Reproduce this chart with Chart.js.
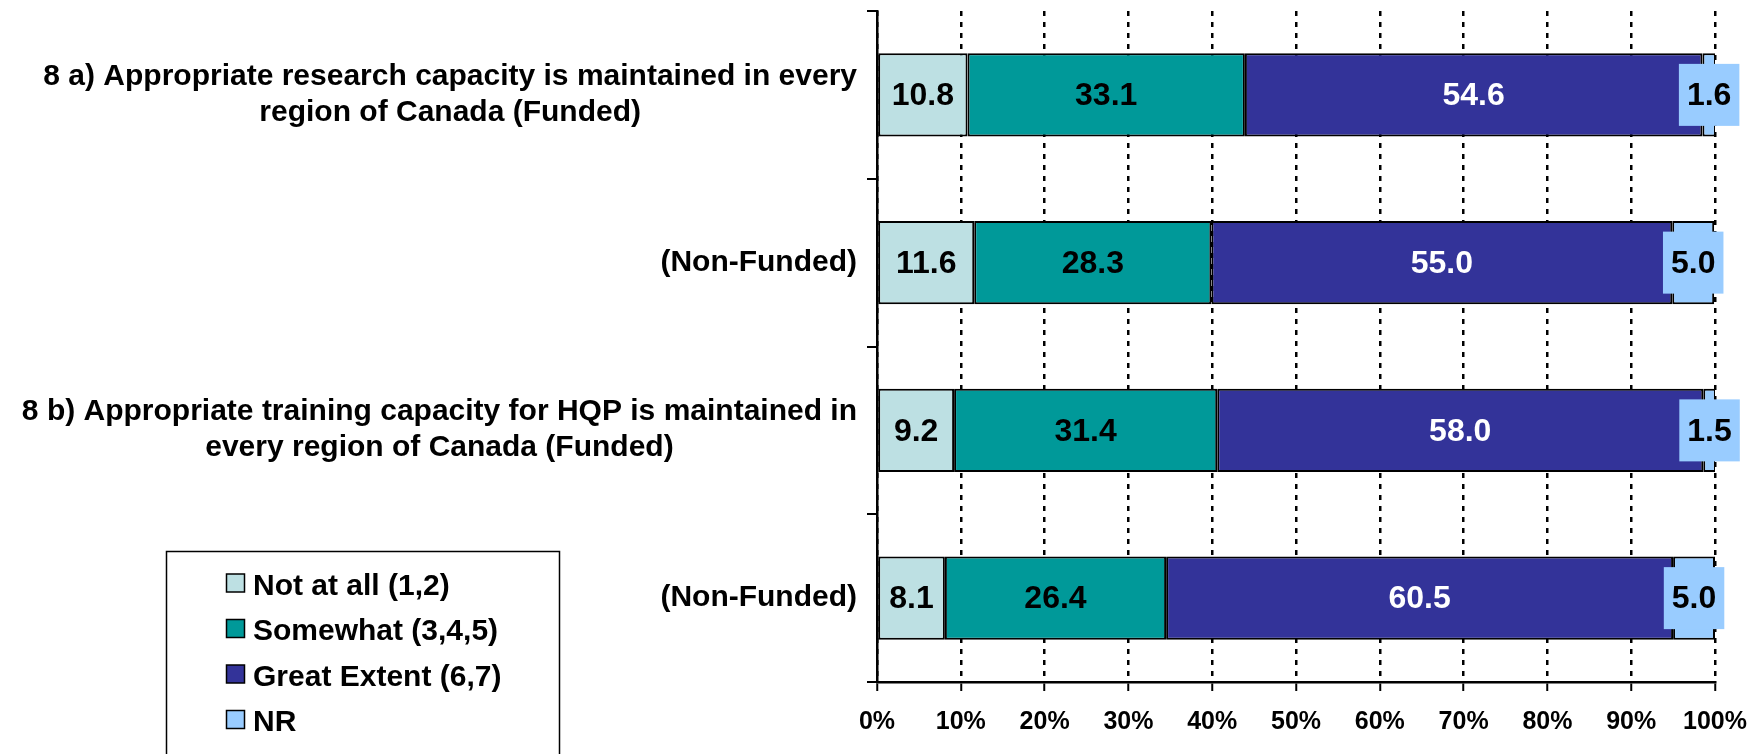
<!DOCTYPE html>
<html>
<head>
<meta charset="utf-8">
<script src="https://cdn.jsdelivr.net/npm/chart.js@4.4.1/dist/chart.umd.min.js"></script>
<style>
  html, body { margin: 0; padding: 0; background: #ffffff; }
  #wrap { width: 1763px; height: 754px; position: relative; }
</style>
</head>
<body>
<div id="wrap"><canvas id="c" width="1763" height="754"></canvas></div>
<script>
const categories = [
  ["8 a) Appropriate research capacity is maintained in every", "region of Canada (Funded)"],
  ["(Non-Funded)"],
  ["8 b) Appropriate training capacity for HQP is maintained in", "every region of Canada (Funded)"],
  ["(Non-Funded)"]
];
const seriesNames = ["Not at all (1,2)", "Somewhat (3,4,5)", "Great Extent (6,7)", "NR"];
const notAtAll    = [10.8, 11.6, 9.2, 8.1];
const somewhat    = [33.1, 28.3, 31.4, 26.4];
const greatExtent = [54.6, 55.0, 58.0, 60.5];
const noResponse  = [1.6, 5.0, 1.5, 5.0];
const tickLabels  = ["0%", "10%", "20%", "30%", "40%", "50%", "60%", "70%", "80%", "90%", "100%"];

const seriesColors = ["#BDE0E3", "#009999", "#333399", "#99CCFF"];
const labelColors  = ["#000000", "#000000", "#FFFFFF", "#000000"];
const FONT = '"Liberation Sans", Arial, Helvetica, sans-serif';

const seriesValues = [notAtAll, somewhat, greatExtent, noResponse];

const datasets = seriesValues.map((vals, i) => ({
  label: seriesNames[i],
  data: vals,
  backgroundColor: seriesColors[i],
  borderColor: "#000000",
  borderWidth: 2,
  borderSkipped: false,
  barPercentage: 0.495,
  categoryPercentage: 1.0
}));

const customPlugin = {
  id: 'customDraw',
  afterDatasetsDraw(chart) {
    const ctx = chart.ctx;
    ctx.save();
    ctx.font = 'bold 32px ' + FONT;
    ctx.textAlign = 'center';
    ctx.textBaseline = 'middle';
    chart.data.datasets.forEach((ds, di) => {
      const meta = chart.getDatasetMeta(di);
      meta.data.forEach((bar, i) => {
        const v = ds.data[i];
        const cx = (bar.x + bar.base) / 2;
        const cy = bar.y;
        const txt = v.toFixed(1);
        if (di === 3) {
          const w = ctx.measureText(txt).width + 16;
          ctx.fillStyle = ds.backgroundColor;
          ctx.fillRect(cx - w / 2, cy - 31, w, 62);
        }
        ctx.fillStyle = labelColors[di];
        ctx.fillText(txt, cx, cy + 1.5);
      });
    });
    ctx.restore();
  },
  afterDraw(chart) {
    const ctx = chart.ctx;
    const ys = chart.scales.y;
    ctx.save();
    // category labels (multi-line, lines centred within block, block right-aligned)
    ctx.font = 'bold 30px ' + FONT;
    ctx.fillStyle = '#000000';
    ctx.textAlign = 'center';
    ctx.textBaseline = 'alphabetic';
    const rightEdge = ys.right - 20;
    chart.data.labels.forEach((lines, i) => {
      const cy = ys.getPixelForValue(i);
      const maxW = Math.max(...lines.map(l => ctx.measureText(l).width));
      const cx = rightEdge - maxW / 2;
      const n = lines.length;
      lines.forEach((l, k) => {
        const by = cy + (k - (n - 1) / 2) * 36 + 8;
        ctx.fillText(l, cx, by);
      });
    });
    // legend
    ctx.lineWidth = 1.5;
    ctx.strokeStyle = '#000000';
    ctx.strokeRect(166.5, 551.5, 393, 230);
    ctx.textAlign = 'left';
    chart.data.datasets.forEach((ds, i) => {
      const cy = 583.5 + i * 45.5;
      ctx.fillStyle = ds.backgroundColor;
      ctx.fillRect(226.5, cy - 9.5, 18, 18);
      ctx.strokeRect(226.5, cy - 9.5, 18, 18);
      ctx.fillStyle = '#000000';
      ctx.fillText(ds.label, 253, cy + 11);
    });
    ctx.restore();
  }
};

new Chart(document.getElementById('c'), {
  type: 'bar',
  data: { labels: categories, datasets: datasets },
  options: {
    indexAxis: 'y',
    responsive: false,
    animation: false,
    layout: { padding: { top: 11, right: 48, left: 0, bottom: 0 } },
    plugins: { legend: { display: false }, tooltip: { enabled: false } },
    scales: {
      x: {
        type: 'linear',
        stacked: true,
        min: 0,
        max: 100,
        position: 'bottom',
        afterFit: s => { s.height = 72; },
        ticks: {
          stepSize: 10,
          autoSkip: false,
          maxRotation: 0,
          padding: 16,
          color: '#000000',
          font: { family: FONT, size: 25, weight: 'bold' },
          callback: (v, idx) => tickLabels[idx]
        },
        grid: {
          color: '#000000',
          lineWidth: 2.5,
          drawTicks: true,
          tickLength: 9,
          tickColor: '#000000',
          tickWidth: 2,
          tickBorderDash: []
        },
        border: { display: true, color: '#000000', width: 2.5, dash: [5, 6] }
      },
      y: {
        type: 'category',
        stacked: true,
        position: 'left',
        afterFit: s => { s.width = 877; },
        ticks: { display: false },
        grid: {
          offset: true,
          drawOnChartArea: false,
          drawTicks: true,
          tickLength: 10,
          color: '#000000',
          lineWidth: 2
        },
        border: { display: true, color: '#000000', width: 2.5 }
      }
    }
  },
  plugins: [customPlugin]
});
</script>
</body>
</html>
